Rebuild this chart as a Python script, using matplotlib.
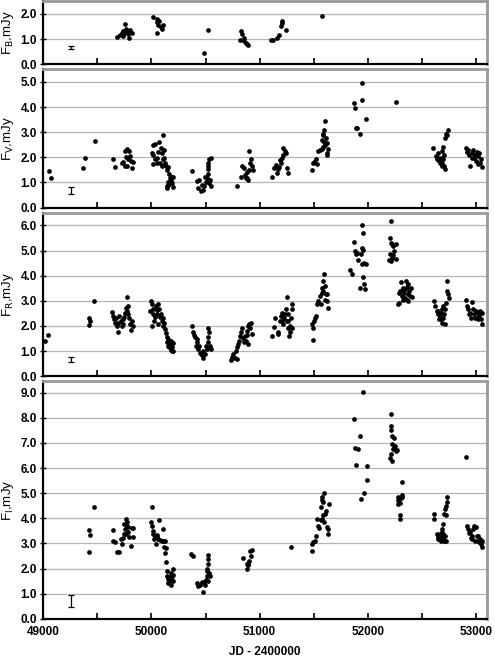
import matplotlib
matplotlib.use('Agg')
import matplotlib.pyplot as plt

plt.rcParams['font.family'] = ['Liberation Sans', 'DejaVu Sans']

# B band
jd_b = [49686, 49711, 49726, 49742, 49757, 49766, 49778, 49788, 49803, 49818, 49797, 49735, 49748,
        50019, 50055, 50049, 50065, 50086, 50111, 50049, 50074, 50095,
        50486, 50523,
        50828, 50840, 50819, 50856, 50874, 50896, 50880, 50859,
        51105, 51127, 51157, 51182, 51194, 51210, 51244, 51203,
        51576]
flux_b = [1.07, 1.14, 1.22, 1.32, 1.59, 1.41, 1.29, 1.18, 1.35, 1.22, 1.05, 1.12, 1.25,
          1.86, 1.80, 1.66, 1.56, 1.46, 1.55, 1.22, 1.73, 1.39,
          0.44, 1.36,
          1.32, 1.18, 0.98, 1.05, 0.84, 0.78, 0.80, 0.91,
          0.95, 0.98, 1.02, 1.14, 1.52, 1.73, 1.35, 1.62,
          1.93]

# V band
jd_v = [49055, 49074, 49372, 49384, 49480, 49649, 49668,
        49732, 49757, 49778, 49797, 49766, 49788, 49809, 49828, 49757, 49778, 49818, 49803, 49742,
        50012, 50034, 50003, 50019, 50034, 50012, 50049, 50065, 50074, 50086, 50102, 50117, 50105,
        50126, 50111, 50135, 50151, 50160, 50055, 50080, 50095, 50117, 50142,
        50142, 50157, 50172, 50188, 50203, 50197, 50148, 50166, 50182, 50157, 50188,
        50372,
        50425, 50443, 50434, 50456, 50474, 50465, 50486, 50502, 50511, 50520, 50526, 50520, 50536,
        50548, 50533, 50548, 50542, 50499, 50526,
        50794,
        50828, 50834, 50856, 50865, 50880, 50896, 50905, 50911, 50905, 50917, 50927, 50936, 50886, 50871,
        51112, 51136, 51148, 51158, 51179, 51188, 51204, 51219, 51235, 51219, 51241, 51250, 51259,
        51198, 51167,
        51481, 51490, 51506, 51518, 51527, 51536, 51558, 51573, 51589, 51579, 51598, 51589, 51604,
        51610, 51619, 51629, 51619, 51604, 51592, 51582, 51626,
        51875, 51881, 51887, 51900, 51930, 51949, 51949, 51980,
        52257,
        52604, 52626, 52635, 52651, 52666, 52675, 52687, 52697, 52706, 52712, 52681, 52712, 52721,
        52737, 52727, 52657, 52697, 52706, 52681, 52644,
        52906, 52912, 52927, 52942, 52958, 52973, 52982, 52995, 53004, 53019, 53035, 53044, 53051,
        53013, 52989, 52964, 52933, 53029]
flux_v = [1.46, 1.18, 1.56, 1.97, 2.66, 1.95, 1.63,
          1.77, 2.24, 2.33, 2.24, 2.02, 1.92, 1.86, 1.82, 1.67, 1.64, 1.56, 2.05, 1.80,
          2.49, 2.55, 2.18, 2.11, 1.92, 1.73, 1.79, 2.20, 2.62, 2.37, 2.18, 2.28, 1.92,
          1.79, 2.88, 1.67, 1.63, 1.35, 1.98, 1.79, 1.67, 1.98, 1.48,
          0.84, 1.03, 1.16, 1.22, 1.22, 0.80, 0.78, 0.93, 1.09, 0.88, 0.97,
          1.44,
          1.06, 1.09, 0.78, 0.65, 0.71, 0.90, 0.84, 1.03, 1.16, 1.35, 1.54, 1.79, 1.92,
          1.98, 0.97, 0.84, 1.09, 1.22, 1.67,
          0.84,
          1.22, 1.64, 1.56, 1.29, 1.18, 1.09, 1.51, 1.79, 2.26, 1.92, 1.67, 1.48, 1.41, 1.16,
          1.22, 1.56, 1.69, 1.39, 1.60, 1.90, 1.98, 2.11, 2.24, 2.37, 2.18, 1.56, 1.39,
          1.79, 1.54,
          1.48, 1.79, 1.82, 1.95, 1.73, 2.24, 2.28, 2.33, 2.43, 2.68, 3.07, 2.88, 3.45,
          2.75, 2.56, 2.33, 2.18, 2.49, 2.62, 2.94, 2.11,
          4.15, 3.98, 3.17, 3.16, 2.91, 4.97, 4.27, 3.54,
          4.19,
          2.37, 2.05, 1.92, 2.18, 1.79, 1.98, 2.24, 2.43, 1.67, 1.54, 1.67, 2.75, 2.94,
          3.09, 2.88, 1.86, 1.95, 2.11, 1.79, 1.98,
          2.37, 2.20, 2.28, 1.67, 2.18, 2.30, 1.98, 1.86, 2.20, 2.05, 1.79, 1.92, 1.60,
          1.73, 2.11, 1.98, 2.11, 2.18]

# R band
jd_r = [49018, 49049, 49424, 49428, 49434, 49471,
        49634, 49643, 49655, 49665, 49680, 49689, 49674, 49705, 49717, 49735, 49748, 49757, 49766,
        49772, 49778, 49788, 49797, 49803, 49809, 49818, 49828, 49788, 49742, 49726, 49695,
        49997, 50006, 49988, 50012, 50019, 50003, 50034, 50043, 50049, 50055, 50065, 50074, 50080,
        50086, 50095, 50105, 50111, 50117, 50126, 50135, 50025, 50065,
        50142, 50148, 50157, 50166, 50179, 50188, 50197, 50203, 50172, 50157, 50191, 50182,
        50372, 50382, 50394, 50406, 50419, 50412, 50434, 50449, 50465, 50480, 50496, 50511, 50520,
        50526, 50520, 50536, 50542, 50548, 50505, 50474, 50443, 50425,
        50736, 50748, 50757, 50773, 50788, 50782, 50794, 50803, 50813, 50819, 50828, 50834, 50850,
        50856, 50874, 50880, 50886, 50896, 50905, 50917, 50930, 50896, 50865, 50911,
        51112, 51136, 51142, 51167, 51173, 51188, 51198, 51204, 51219, 51229, 51241, 51250, 51250,
        51259, 51265, 51272, 51281, 51290, 51296, 51302, 51296, 51235, 51210, 51265, 51281,
        51490, 51481, 51496, 51506, 51512, 51521, 51527, 51542, 51558, 51573, 51579, 51589, 51598,
        51604, 51610, 51619, 51629, 51567, 51589, 51604, 51619,
        51835, 51856, 51875, 51881, 51887, 51906, 51896, 51927, 51943, 51949, 51952, 51958, 51943,
        51967, 51973, 51961, 51958, 51983, 51936,
        52213, 52204, 52213, 52226, 52235, 52257, 52204, 52220, 52235, 52213, 52257, 52244, 52195,
        52275, 52287, 52297, 52306, 52312, 52318, 52327, 52337, 52343, 52349, 52358, 52367, 52374,
        52380, 52389, 52398, 52404, 52290, 52321, 52361, 52343, 52374,
        52611, 52620, 52635, 52644, 52657, 52666, 52675, 52681, 52687, 52697, 52706, 52712, 52718,
        52727, 52727, 52737, 52749, 52651, 52675, 52697, 52712,
        52906, 52912, 52927, 52942, 52952, 52964, 52973, 52982, 52995, 53004, 53013, 53026, 53035,
        53044, 53057, 53019, 52933, 52989, 53051]
flux_r = [1.38, 1.64, 2.03, 2.30, 2.20, 2.99,
          2.57, 2.40, 2.26, 2.13, 2.00, 1.77, 2.33, 2.40, 2.20, 2.07, 2.36, 2.53, 2.73,
          3.15, 2.60, 2.46, 2.33, 2.07, 1.83, 2.20, 2.00, 2.79, 2.26, 2.00, 2.13,
          2.99, 2.86, 2.60, 2.66, 2.46, 2.00, 2.36, 2.79, 2.62, 2.49, 2.89, 2.66, 2.36,
          2.49, 2.20, 2.33, 2.00, 2.13, 1.87, 1.73, 2.20, 2.07,
          1.54, 1.36, 1.21, 1.14, 1.03, 1.17, 1.30, 1.01, 1.27, 1.47, 1.01, 1.38,
          2.00, 1.77, 1.64, 1.54, 1.34, 1.21, 1.07, 0.94, 0.85, 0.74, 0.87, 1.07, 1.34,
          1.56, 1.93, 1.74, 1.21, 1.07, 1.21, 1.01, 1.21, 1.47,
          0.64, 0.77, 0.87, 0.74, 0.68, 1.01, 1.17, 1.27, 1.40, 1.60, 1.74, 1.93, 1.51,
          1.34, 1.40, 1.64, 1.80, 2.00, 2.09, 2.13, 1.67, 1.27, 1.60, 1.91,
          1.60, 1.96, 2.30, 1.67, 1.77, 2.20, 2.40, 2.53, 2.07, 2.33, 2.66, 3.15, 2.20,
          2.46, 1.93, 1.60, 2.00, 2.33, 2.66, 2.89, 1.93, 2.46, 2.20, 2.20, 1.74,
          1.44, 2.07, 1.93, 2.20, 2.33, 2.40, 2.86, 2.99, 3.19, 3.32, 3.52, 3.79, 4.05,
          3.05, 3.26, 2.99, 2.73, 2.86, 3.39, 3.58, 3.26,
          4.21, 4.05, 5.35, 4.98, 4.85, 4.61, 4.91, 3.50, 5.11, 6.01, 5.71, 5.01, 4.45,
          4.52, 3.46, 3.68, 3.95, 4.48, 4.85,
          6.17, 5.51, 5.31, 5.27, 5.18, 5.27, 4.87, 4.72, 4.82, 4.58, 4.65, 4.98, 4.61,
          2.86, 2.93, 3.39, 3.76, 3.42, 3.19, 3.52, 3.32, 3.10, 3.79, 3.55, 3.26, 2.99,
          3.39, 3.19, 3.52, 3.13, 3.32, 3.02, 3.02, 3.46, 3.66,
          2.99, 2.79, 2.60, 2.46, 2.26, 2.36, 2.53, 2.13, 2.66, 2.79, 2.46, 2.07, 2.93,
          3.39, 3.79, 3.26, 3.10, 2.60, 2.26, 2.33, 2.66,
          3.05, 2.79, 2.66, 2.53, 2.33, 2.97, 2.66, 2.46, 2.60, 2.33, 2.53, 2.40, 2.60,
          2.26, 2.09, 2.26, 2.46, 2.33, 2.53]

# I band
jd_i = [49424, 49434, 49428, 49474,
        49643, 49649, 49665, 49686, 49705, 49717, 49726, 49735, 49748, 49757, 49766, 49772, 49778,
        49788, 49797, 49809, 49818, 49828, 49834, 49766, 49788, 49748,
        50003, 49997, 50003, 50012, 50019, 50025, 50034, 50043, 50055, 50065, 50074, 50080, 50095,
        50105, 50111, 50117, 50126, 50132, 50135, 50129, 50049,
        50142, 50148, 50157, 50166, 50172, 50182, 50188, 50197, 50203, 50197, 50154, 50179, 50191,
        50366, 50388,
        50419, 50431, 50449, 50465, 50474, 50486, 50496, 50505, 50511, 50517, 50520, 50526, 50526,
        50536, 50542, 50526, 50511,
        50843, 50886, 50896, 50905, 50911, 50927, 50917, 50896, 50886,
        51287,
        51487, 51481, 51496, 51512, 51518, 51527, 51536, 51549, 51567, 51573, 51579, 51589, 51598,
        51579, 51589, 51604, 51610, 51619, 51629, 51635, 51641, 51598, 51567,
        51872, 51881, 51906, 51887, 51927, 51936, 51952, 51967, 51989, 51989,
        52210, 52213, 52213, 52220, 52244, 52226, 52235, 52250, 52257, 52213, 52220, 52204, 52244, 52266,
        52318, 52275, 52281, 52297, 52312, 52306, 52287, 52318, 52297, 52300, 52281,
        52614, 52614, 52635, 52644, 52651, 52666, 52675, 52681, 52687, 52697, 52697, 52706, 52712,
        52718, 52706, 52712, 52718, 52727, 52727, 52721, 52657, 52681, 52694,
        52909, 52912, 52921, 52933, 52942, 52952, 52964, 52973, 52982, 52995, 53004, 53013, 53019,
        53026, 53035, 53044, 53057, 53051, 52989, 52958]
flux_i = [3.54, 3.35, 2.66, 4.44,
          3.54, 3.11, 3.04, 2.66, 2.66, 3.17, 2.97, 3.20, 3.38, 3.58, 3.98, 3.85, 3.71,
          3.65, 3.24, 2.91, 3.61, 3.24, 3.61, 3.38, 3.45, 3.78,
          4.44, 3.85, 3.69, 3.51, 3.38, 3.17, 3.28, 2.97, 3.24, 3.17, 3.92, 3.15, 3.11,
          3.58, 3.11, 2.84, 2.61, 2.80, 2.26, 3.11, 3.34,
          1.90, 1.72, 1.59, 1.45, 1.67, 1.83, 1.56, 1.97, 1.76, 1.49, 1.43, 1.36, 1.70,
          2.57, 2.48,
          1.43, 1.32, 1.36, 1.45, 1.05, 1.45, 1.36, 1.56, 1.70, 1.90, 2.17, 2.37, 2.54,
          1.83, 1.70, 1.49, 1.97,
          2.44, 2.00, 2.13, 2.30, 2.71, 2.75, 2.50, 2.23, 2.17,
          2.84,
          2.71, 2.97, 3.04, 3.11, 3.28, 3.98, 3.71, 3.61, 4.45, 4.72, 4.86, 4.66, 4.99,
          3.98, 4.12, 4.19, 4.28, 3.65, 3.58, 3.38, 4.55, 3.85, 3.92,
          7.95, 6.81, 6.74, 6.11, 7.28, 4.76, 9.03, 4.99, 6.07, 5.53,
          8.16, 7.69, 7.51, 7.28, 7.19, 6.94, 6.74, 6.88, 6.68, 6.54, 6.30, 6.41, 6.81, 6.70,
          5.46, 4.86, 4.72, 4.59, 4.93, 4.79, 4.66, 4.86, 4.12, 3.98, 4.55,
          4.19, 3.98, 3.38, 3.24, 3.17, 3.38, 3.11, 3.28, 3.58, 3.78, 3.17, 3.11, 3.31,
          3.11, 4.19, 4.39, 4.15, 4.66, 4.86, 4.50, 3.17, 3.45, 3.38,
          6.43, 3.71, 3.58, 3.42, 3.45, 3.20, 3.31, 3.58, 3.71, 3.65, 3.31, 3.11, 3.28,
          3.04, 3.17, 2.97, 3.11, 2.84, 3.08, 3.17]

bands = ['B', 'V', 'R', 'I']
y_tops = [2.5, 5.5, 6.5, 9.45]
err_jd = 49255
err_flux = [0.67, 0.68, 0.66, 0.70]
err_half = [0.07, 0.13, 0.11, 0.24]

fig, axes = plt.subplots(4, 1, figsize=(4.95, 6.59), dpi=100, sharex=True,
                         gridspec_kw={'height_ratios': y_tops, 'hspace': 0.035})
fig.subplots_adjust(left=0.087, right=0.984, top=0.998, bottom=0.061)

data = [(jd_b, flux_b), (jd_v, flux_v), (jd_r, flux_r), (jd_i, flux_i)]

for k, ax in enumerate(axes):
    jd, fl = data[k]
    ax.plot(jd, fl, 'o', color='black', ms=3.4, mew=0, zorder=3)
    ax.errorbar([err_jd], [err_flux[k]], yerr=[err_half[k]], fmt='none',
                ecolor='black', elinewidth=0.9, capsize=2.5, capthick=0.9)
    ax.set_ylim(0, y_tops[k])
    ax.set_yticks([v for v in range(int(y_tops[k]) + 1)])
    ax.set_yticklabels(['%.1f' % v for v in range(int(y_tops[k]) + 1)],
                       fontweight='bold', fontsize=8.5)
    ax.yaxis.grid(True, color='#b4b4b4', lw=0.9)
    ax.set_axisbelow(True)
    for side in ['top', 'right']:
        ax.spines[side].set_color('#999999')
        ax.spines[side].set_linewidth(2.0)
    for side in ['left', 'bottom']:
        ax.spines[side].set_color('black')
        ax.spines[side].set_linewidth(1.6)
    ax.tick_params(axis='y', direction='inout', length=5, width=1.0, pad=2)
    ax.tick_params(axis='x', direction='in', length=4, width=1.2, pad=5)
    ax.set_ylabel('F$_{\\mathrm{%s}}$,mJy' % bands[k], fontsize=9.5)
    ax.yaxis.set_label_coords(-0.06, 0.5)

axes[-1].set_xlim(49000, 53100)
axes[-1].set_xticks(range(49000, 53001, 500))
axes[-1].set_xticklabels([str(v) if v % 1000 == 0 else '' for v in range(49000, 53001, 500)],
                         fontweight='bold', fontsize=8.5)
axes[-1].set_xlabel('JD - 2400000', fontweight='bold', fontsize=8.5, labelpad=6)

plt.savefig('out.png', dpi=100)
